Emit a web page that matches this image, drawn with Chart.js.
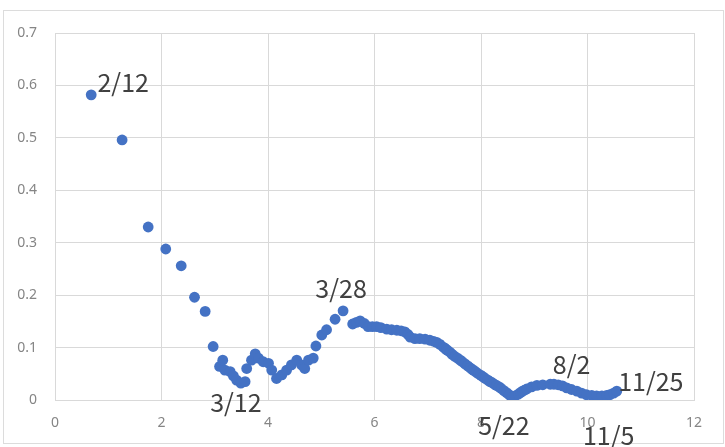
<!DOCTYPE html>
<html>
<head>
<meta charset="utf-8">
<script src="https://cdn.jsdelivr.net/npm/chart.js@4.4.0/dist/chart.umd.min.js"></script>
<style>
  body { margin: 0; background: #fff; }
  canvas { display: block; }
</style>
</head>
<body>
<canvas id="scatter" width="725" height="447"></canvas>
<script>
// values
const xValues = [
  0.68, 1.26, 1.75, 2.08, 2.37, 2.62, 2.82, 2.97, 3.09, 3.15,
  3.19, 3.29, 3.35, 3.41, 3.49, 3.57, 3.60, 3.69, 3.76, 3.82,
  3.91, 4.01, 4.07, 4.16, 4.26, 4.35, 4.44, 4.54, 4.63, 4.69,
  4.76, 4.85, 4.90, 5.01, 5.10, 5.26, 5.41,
  5.59, 5.66, 5.73, 5.81, 5.88, 5.96, 6.04, 6.12, 6.23, 6.32,
  6.42, 6.50, 6.57, 6.63, 6.67, 6.76, 6.85, 6.95, 7.04, 7.11,
  7.17, 7.23, 7.29, 7.32, 7.35, 7.38, 7.42, 7.46, 7.51, 7.56,
  7.61, 7.65, 7.70, 7.75, 7.80, 7.84, 7.87, 7.91, 7.95, 8.00,
  8.04, 8.08, 8.13, 8.17, 8.21, 8.25, 8.29, 8.34, 8.38, 8.43,
  8.48, 8.53, 8.58, 8.64, 8.70, 8.74, 8.78, 8.82, 8.86, 8.95,
  9.05, 9.16, 9.30, 9.37, 9.45, 9.53, 9.61, 9.70, 9.80, 9.89,
  9.98, 10.08, 10.17, 10.27, 10.36, 10.42, 10.49, 10.55
];
const yValues = [
  0.582, 0.496, 0.330, 0.288, 0.256, 0.196, 0.169, 0.102, 0.064, 0.076,
  0.057, 0.054, 0.046, 0.038, 0.032, 0.035, 0.060, 0.076, 0.088, 0.080,
  0.073, 0.070, 0.057, 0.041, 0.048, 0.057, 0.067, 0.076, 0.067, 0.060,
  0.076, 0.080, 0.103, 0.124, 0.134, 0.154, 0.170,
  0.145, 0.148, 0.151, 0.146, 0.140, 0.140, 0.140, 0.138, 0.135, 0.134,
  0.133, 0.132, 0.130, 0.125, 0.120, 0.117, 0.117, 0.116, 0.114, 0.112,
  0.110, 0.106, 0.101, 0.099, 0.096, 0.094, 0.091, 0.087, 0.083, 0.080,
  0.076, 0.073, 0.069, 0.065, 0.061, 0.058, 0.056, 0.053, 0.050, 0.047,
  0.044, 0.041, 0.038, 0.035, 0.033, 0.030, 0.028, 0.025, 0.022, 0.018,
  0.014, 0.010, 0.005, 0.008, 0.011, 0.014, 0.017, 0.019, 0.021, 0.025,
  0.028, 0.029, 0.030, 0.030, 0.029, 0.027, 0.023, 0.020, 0.017, 0.013,
  0.010, 0.009, 0.008, 0.008, 0.009, 0.010, 0.013, 0.017
];

// date labels and the x of the point each one belongs to
const dateLabels = ['2/12', '3/12', '3/28', '5/22', '8/2', '11/5', '11/25'];
const dateLabelAt = [0.68, 3.49, 5.41, 8.58, 9.70, 10.36, 10.55];

const xTicks = [0, 2, 4, 6, 8, 10, 12];
const yTicks = [0, 0.1, 0.2, 0.3, 0.4, 0.5, 0.6, 0.7];

// pixel offsets of each date label from its point
const labelOffsets = [[32, -12], [-5, 19], [-2, -22], [-8, 28], [0, -25], [2, 40], [34, -10]];

const points = xValues.map((x, i) => ({ x: x, y: yValues[i] }));

const frame = {
    id: 'frame',
    beforeDraw(chart) {
        const c = chart.ctx;
        c.save();
        c.fillStyle = '#ffffff';
        c.fillRect(0, 0, chart.width, chart.height);
        c.strokeStyle = '#dcdcdc';
        c.lineWidth = 1;
        c.strokeRect(3.5, 10.5, 720, 433);
        c.restore();
    }
};

const dateText = {
    id: 'dateText',
    afterDatasetsDraw(chart) {
        const c = chart.ctx;
        const xs = chart.scales.x, ys = chart.scales.y;
        c.save();
        c.font = '25px "Noto Sans CJK JP", "Noto Sans", sans-serif';
        c.fillStyle = '#404040';
        c.textAlign = 'center';
        c.textBaseline = 'middle';
        dateLabels.forEach((txt, i) => {
            const idx = xValues.indexOf(dateLabelAt[i]);
            const px = xs.getPixelForValue(xValues[idx]);
            const py = ys.getPixelForValue(yValues[idx]);
            c.fillText(txt, px + labelOffsets[i][0], py + labelOffsets[i][1]);
        });
        c.restore();
    }
};

const ctx = document.getElementById('scatter').getContext('2d');
const chart = new Chart(ctx, {
    type: 'scatter',
    data: {
        datasets: [{
            data: points,
            backgroundColor: '#4472C4',
            borderWidth: 0,
            pointRadius: 5.4,
            pointHoverRadius: 5.4
        }]
    },
    options: {
        responsive: false,
        animation: false,
        layout: { padding: { top: 33, right: 31, left: 0, bottom: 0 } },
        plugins: { legend: { display: false }, tooltip: { enabled: false } },
        scales: {
            x: {
                type: 'linear',
                min: 0,
                max: 12,
                afterFit: s => { s.height = 47; },
                afterBuildTicks: s => { s.ticks = xTicks.map(v => ({ value: v })); },
                grid: { color: '#d9d9d9', drawTicks: false },
                border: { color: '#d9d9d9' },
                ticks: { color: '#858585', padding: 15, font: { size: 14, family: 'Noto Sans' } }
            },
            y: {
                type: 'linear',
                min: 0,
                max: 0.7,
                afterFit: s => { s.width = 55; },
                afterBuildTicks: s => { s.ticks = yTicks.map(v => ({ value: v })); },
                grid: { color: '#d9d9d9', drawTicks: false },
                border: { color: '#d9d9d9' },
                ticks: {
                    color: '#858585',
                    padding: 18,
                    font: { size: 14, family: 'Noto Sans' },
                    callback: v => String(+v.toFixed(1))
                }
            }
        }
    },
    plugins: [frame, dateText]
});
</script>
</body>
</html>
